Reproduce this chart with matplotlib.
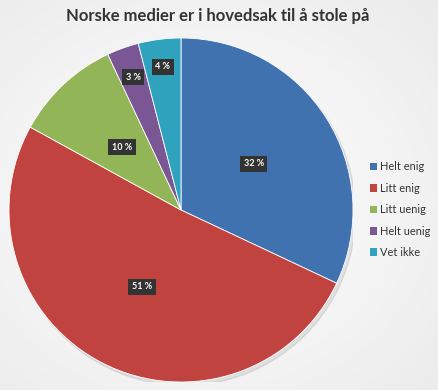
import numpy as np
import matplotlib
matplotlib.use("Agg")
import matplotlib.pyplot as plt

# Data
categories = ["Helt enig", "Litt enig", "Litt uenig", "Helt uenig", "Vet ikke"]
values = [32, 51, 10, 3, 4]
colors = ["#3F72AF", "#C0433F", "#92B657", "#7A5695", "#2FA3BE"]
label_radius = [0.5, 0.5, 0.5, 0.82, 0.84]

plt.rcParams["font.family"] = ["Lato", "DejaVu Sans"]

fig = plt.figure(figsize=(4.39, 3.90), dpi=100)
fig.patch.set_facecolor("#f1f1f1")

# soft light background glow
bg = fig.add_axes([0, 0, 1, 1], zorder=-1)
yy, xx = np.mgrid[0:390, 0:439]
d = np.sqrt(((xx - 200) / 300.0) ** 2 + ((yy - 200) / 260.0) ** 2)
shade = np.clip(1.0 - 0.07 * d, 0.92, 1.0)
bg.imshow(np.dstack([shade, shade, shade]), aspect="auto", extent=[0, 1, 0, 1])
bg.axis("off")

ax = fig.add_axes([9 / 439, 8 / 390, 344 / 439, 344 / 390])
ax.set_aspect("equal")

# faint shadow behind pie
shadow = plt.Circle((0.015, -0.02), 1.0, color="#000000", alpha=0.08, zorder=0)
ax.add_patch(shadow)

wedges, _ = ax.pie(values, colors=colors, startangle=90, counterclock=False,
                   radius=1.0, wedgeprops=dict(edgecolor="white", linewidth=0.6))

total = sum(values)
start = 90.0
for v, r in zip(values, label_radius):
    mid = start - 360.0 * v / total / 2
    start -= 360.0 * v / total
    x = r * np.cos(np.radians(mid))
    y = r * np.sin(np.radians(mid))
    ax.text(x, y, f"{v} %", ha="center", va="center", color="white",
            fontsize=6.5, fontweight="bold",
            bbox=dict(boxstyle="square,pad=0.4", fc="#333333", ec="none"))

ax.set_xlim(-1.0, 1.0)
ax.set_ylim(-1.0, 1.0)
ax.axis("off")

fig.text(0.497, 0.96, "Norske medier er i hovedsak til å stole på", ha="center",
         va="center", fontsize=12, fontweight="bold", color="#333333")

handles = [plt.Rectangle((0, 0), 1, 1, fc=c, ec="none") for c in colors]
leg = fig.legend(handles, categories, loc="center left", bbox_to_anchor=(0.842, 0.462),
                 frameon=False, fontsize=7.9, handlelength=0.7, handleheight=0.7,
                 handletextpad=0.2, labelspacing=0.95, borderaxespad=0, borderpad=0)
for t in leg.get_texts():
    t.set_color("#333333")

fig.savefig("out.png", dpi=100, facecolor=fig.get_facecolor())
